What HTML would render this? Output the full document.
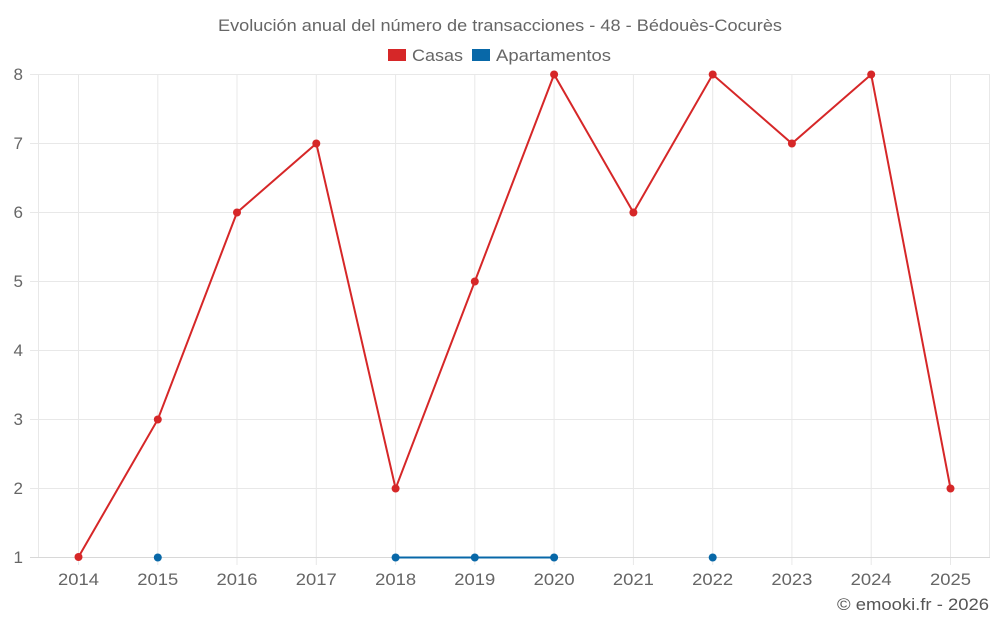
<!DOCTYPE html>
<html><head><meta charset="utf-8"><style>
html,body{margin:0;padding:0;background:#fff;}
svg{display:block;font-family:"Liberation Sans",sans-serif;}
</style></head><body>
<svg width="1000" height="625" xmlns="http://www.w3.org/2000/svg">
<text x="218" y="31" font-size="17" fill="#666" textLength="564" lengthAdjust="spacingAndGlyphs">Evolución anual del número de transacciones - 48 - Bédouès-Cocurès</text>
<rect x="388" y="49" width="18" height="12" fill="#d62728"/>
<text x="412" y="61" font-size="17" fill="#666" textLength="51" lengthAdjust="spacingAndGlyphs">Casas</text>
<rect x="472" y="49" width="18" height="12" fill="#0868a8"/>
<text x="496" y="61" font-size="17" fill="#666" textLength="115" lengthAdjust="spacingAndGlyphs">Apartamentos</text>
<g stroke="#e8e8e8" stroke-width="1">
<line x1="30" y1="74.5" x2="990" y2="74.5"/>
<line x1="30" y1="143.5" x2="990" y2="143.5"/>
<line x1="30" y1="212.5" x2="990" y2="212.5"/>
<line x1="30" y1="281.5" x2="990" y2="281.5"/>
<line x1="30" y1="350.5" x2="990" y2="350.5"/>
<line x1="30" y1="419.5" x2="990" y2="419.5"/>
<line x1="30" y1="488.5" x2="990" y2="488.5"/>
<line x1="38.5" y1="74" x2="38.5" y2="557"/>
<line x1="78.5" y1="74" x2="78.5" y2="565"/>
<line x1="157.8" y1="74" x2="157.8" y2="565"/>
<line x1="237" y1="74" x2="237" y2="565"/>
<line x1="316.3" y1="74" x2="316.3" y2="565"/>
<line x1="395.6" y1="74" x2="395.6" y2="565"/>
<line x1="474.8" y1="74" x2="474.8" y2="565"/>
<line x1="554.1" y1="74" x2="554.1" y2="565"/>
<line x1="633.4" y1="74" x2="633.4" y2="565"/>
<line x1="712.7" y1="74" x2="712.7" y2="565"/>
<line x1="791.9" y1="74" x2="791.9" y2="565"/>
<line x1="871.2" y1="74" x2="871.2" y2="565"/>
<line x1="950.5" y1="74" x2="950.5" y2="565"/>
<line x1="989.5" y1="74" x2="989.5" y2="557"/>
</g>
<line x1="30" y1="557.5" x2="990" y2="557.5" stroke="#d8d8d8"/>
<g font-size="17" fill="#666" text-anchor="end">
<text x="23" y="80">8</text><text x="23" y="149">7</text><text x="23" y="218">6</text><text x="23" y="287">5</text>
<text x="23" y="356">4</text><text x="23" y="425">3</text><text x="23" y="494">2</text><text x="23" y="563">1</text>
</g>
<g font-size="17" fill="#666" text-anchor="middle">
<text x="78.5" y="585" textLength="41" lengthAdjust="spacingAndGlyphs">2014</text><text x="157.8" y="585" textLength="41" lengthAdjust="spacingAndGlyphs">2015</text><text x="237" y="585" textLength="41" lengthAdjust="spacingAndGlyphs">2016</text><text x="316.3" y="585" textLength="41" lengthAdjust="spacingAndGlyphs">2017</text>
<text x="395.6" y="585" textLength="41" lengthAdjust="spacingAndGlyphs">2018</text><text x="474.8" y="585" textLength="41" lengthAdjust="spacingAndGlyphs">2019</text><text x="554.1" y="585" textLength="41" lengthAdjust="spacingAndGlyphs">2020</text><text x="633.4" y="585" textLength="41" lengthAdjust="spacingAndGlyphs">2021</text>
<text x="712.7" y="585" textLength="41" lengthAdjust="spacingAndGlyphs">2022</text><text x="791.9" y="585" textLength="41" lengthAdjust="spacingAndGlyphs">2023</text><text x="871.2" y="585" textLength="41" lengthAdjust="spacingAndGlyphs">2024</text><text x="950.5" y="585" textLength="41" lengthAdjust="spacingAndGlyphs">2025</text>
</g>
<text x="837" y="610" font-size="17" fill="#555" textLength="152" lengthAdjust="spacingAndGlyphs">© emooki.fr - 2026</text>
<polyline fill="none" stroke="#d62728" stroke-width="2" points="78.5,557 157.8,419.5 237,212.5 316.3,143.5 395.6,488.5 474.8,281.5 554.1,74.5 633.4,212.5 712.7,74.5 791.9,143.5 871.2,74.5 950.5,488.5"/>
<g fill="#d62728">
<circle cx="78.5" cy="557" r="4"/><circle cx="157.8" cy="419.5" r="4"/><circle cx="237" cy="212.5" r="4"/><circle cx="316.3" cy="143.5" r="4"/>
<circle cx="395.6" cy="488.5" r="4"/><circle cx="474.8" cy="281.5" r="4"/><circle cx="554.1" cy="74.5" r="4"/><circle cx="633.4" cy="212.5" r="4"/>
<circle cx="712.7" cy="74.5" r="4"/><circle cx="791.9" cy="143.5" r="4"/><circle cx="871.2" cy="74.5" r="4"/><circle cx="950.5" cy="488.5" r="4"/>
</g>
<polyline fill="none" stroke="#0868a8" stroke-width="2" points="395.6,557.5 474.8,557.5 554.1,557.5"/>
<g fill="#0868a8">
<circle cx="157.8" cy="557.5" r="4"/><circle cx="395.6" cy="557.5" r="4"/><circle cx="474.8" cy="557.5" r="4"/><circle cx="554.1" cy="557.5" r="4"/><circle cx="712.7" cy="557.5" r="4"/>
</g>
</svg>
</body></html>
